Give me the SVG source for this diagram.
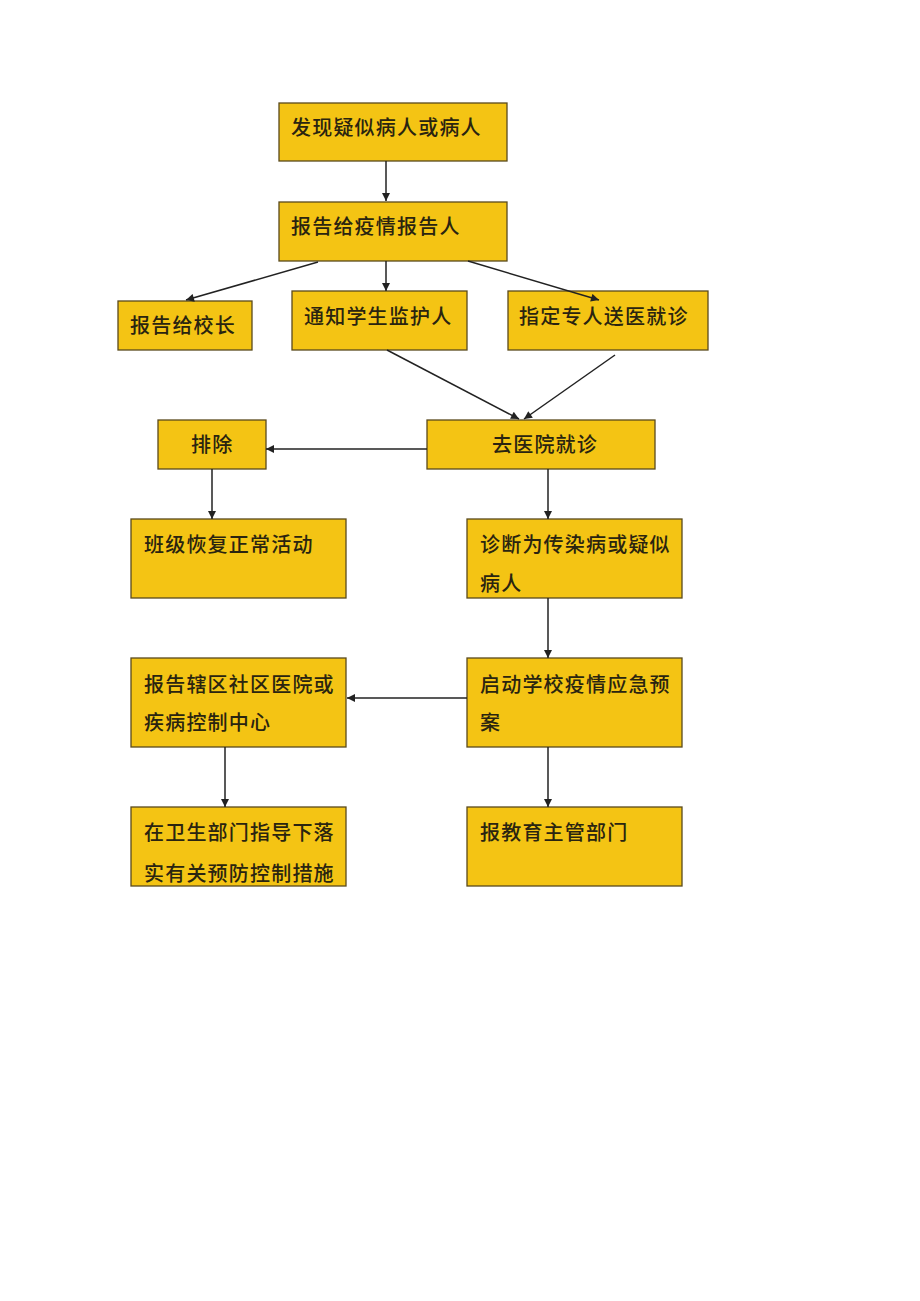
<svg xmlns="http://www.w3.org/2000/svg" width="920" height="1301" viewBox="0 0 920 1301">
<defs>
<style>
.box{fill:#F4C414;stroke:#5a4a1c;stroke-width:1.3}
.t{font-family:"Noto Sans CJK SC",sans-serif;font-size:20px;letter-spacing:1.2px;fill:#2a2410;font-weight:500}
.c{stroke:#222;stroke-width:1.5;fill:none;marker-end:url(#ah)}
</style>
<marker id="ah" viewBox="0 0 10 10" refX="10" refY="5" markerWidth="9" markerHeight="8" markerUnits="userSpaceOnUse" orient="auto"><path d="M0,0 L10,5 L0,10 z" fill="#222"/></marker>
</defs>
<rect width="920" height="1301" fill="#fff"/>
<g id="n1"><rect class="box" x="279" y="103" width="228" height="58"/><text class="t" x="291" y="135">发现疑似病人或病人</text></g>
<g id="n2"><rect class="box" x="279" y="202" width="228" height="59"/><text class="t" x="291" y="234">报告给疫情报告人</text></g>
<g id="n3"><rect class="box" x="118" y="301" width="134" height="49"/><text class="t" x="130" y="333">报告给校长</text></g>
<g id="n4"><rect class="box" x="292" y="291" width="175" height="59"/><text class="t" x="304" y="324">通知学生监护人</text></g>
<g id="n5"><rect class="box" x="508" y="291" width="200" height="59"/><text class="t" x="519" y="324">指定专人送医就诊</text></g>
<g id="n6"><rect class="box" x="158" y="420" width="108" height="49"/><text class="t" x="191" y="452">排除</text></g>
<g id="n7"><rect class="box" x="427" y="420" width="228" height="49"/><text class="t" x="492" y="452">去医院就诊</text></g>
<g id="n8"><rect class="box" x="131" y="519" width="215" height="79"/><text class="t" x="144" y="552">班级恢复正常活动</text></g>
<g id="n9"><rect class="box" x="467" y="519" width="215" height="79"/><text class="t" x="480" y="552">诊断为传染病或疑似</text><text class="t" x="480" y="591">病人</text></g>
<g id="n10"><rect class="box" x="131" y="658" width="215" height="89"/><text class="t" x="144" y="692">报告辖区社区医院或</text><text class="t" x="144" y="730">疾病控制中心</text></g>
<g id="n11"><rect class="box" x="467" y="658" width="215" height="89"/><text class="t" x="480" y="692">启动学校疫情应急预</text><text class="t" x="480" y="730">案</text></g>
<g id="n12"><rect class="box" x="131" y="807" width="215" height="79"/><text class="t" x="144" y="840">在卫生部门指导下落</text><text class="t" x="144" y="881">实有关预防控制措施</text></g>
<g id="n13"><rect class="box" x="467" y="807" width="215" height="79"/><text class="t" x="480" y="840">报教育主管部门</text></g>
<g id="connectors">
<line class="c" x1="386" y1="161" x2="386" y2="201"/>
<line class="c" x1="318" y1="262" x2="186" y2="300"/>
<line class="c" x1="386" y1="261" x2="386" y2="291"/>
<line class="c" x1="468" y1="261" x2="599" y2="300"/>
<line class="c" x1="387" y1="350" x2="519" y2="419"/>
<line class="c" x1="615" y1="355" x2="524" y2="419"/>
<line class="c" x1="427" y1="449" x2="266" y2="449"/>
<line class="c" x1="212" y1="469" x2="212" y2="519"/>
<line class="c" x1="548" y1="469" x2="548" y2="519"/>
<line class="c" x1="548" y1="598" x2="548" y2="658"/>
<line class="c" x1="467" y1="698" x2="347" y2="698"/>
<line class="c" x1="225" y1="747" x2="225" y2="807"/>
<line class="c" x1="548" y1="747" x2="548" y2="807"/>
</g>
</svg>
